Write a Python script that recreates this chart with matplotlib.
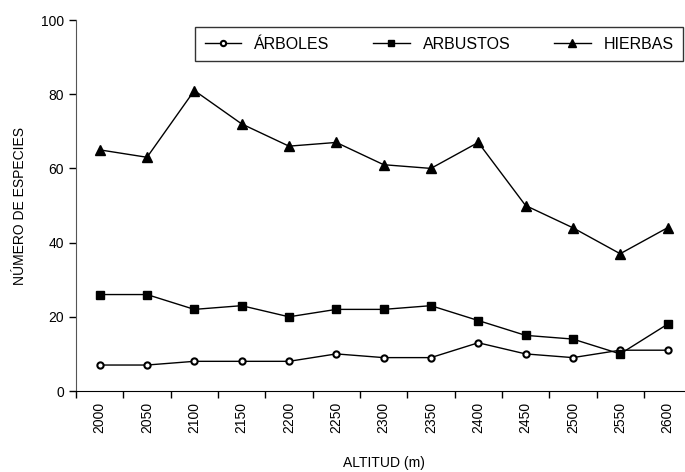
import matplotlib
matplotlib.use("Agg")
import matplotlib.pyplot as plt

# data
altitudes = ['2000', '2050', '2100', '2150', '2200', '2250', '2300',
             '2350', '2400', '2450', '2500', '2550', '2600']
arboles = [7, 7, 8, 8, 8, 10, 9, 9, 13, 10, 9, 11, 11]
arbustos = [26, 26, 22, 23, 20, 22, 22, 23, 19, 15, 14, 10, 18]
hierbas = [65, 63, 81, 72, 66, 67, 61, 60, 67, 50, 44, 37, 44]

plt.rcParams['font.family'] = ['Liberation Sans', 'DejaVu Sans']

fig = plt.figure(figsize=(6.85, 4.72), dpi=100)
ax = fig.add_axes([0.111, 0.1716, 0.898, 0.786])

x = list(range(len(altitudes)))
ax.plot(x, arboles, color='black', lw=1, marker='o', ms=4.5,
        mfc='white', mec='black', mew=1.5, label='ÁRBOLES')
ax.plot(x, arbustos, color='black', lw=1, marker='s', ms=5.5,
        label='ARBUSTOS')
ax.plot(x, hierbas, color='black', lw=1, marker='^', ms=6.5,
        label='HIERBAS')

ax.set_xlim(-0.5, len(altitudes) - 0.5)
ax.set_ylim(0, 100)
ax.set_yticks([0, 20, 40, 60, 80, 100])
ax.set_xticks(x)
ax.set_xticklabels(altitudes, rotation=90, fontsize=10)
ax.set_xticks([i + 0.5 for i in range(-1, len(altitudes))], minor=True)
ax.tick_params(axis='x', which='major', length=0, pad=8)
ax.tick_params(axis='x', which='minor', length=5, width=1, direction='out')
ax.tick_params(axis='y', length=5, width=1, direction='out', labelsize=10)

for s in ['top', 'right']:
    ax.spines[s].set_visible(False)
ax.spines['left'].set_color('#555555')
ax.spines['bottom'].set_color('black')

ax.set_ylabel('NÚMERO DE ESPECIES', fontsize=10, labelpad=10)
ax.set_xlabel('ALTITUD (m)', fontsize=10, labelpad=16)

leg = ax.legend(loc='upper left', bbox_to_anchor=(0.1935, 0.981, 0.7935, 0.0),
                mode='expand', ncol=3,
                frameon=True, fancybox=False, edgecolor='black',
                fontsize=11.5, handlelength=2.3, columnspacing=2.3,
                borderpad=0.6, handletextpad=0.8, borderaxespad=0,
                markerscale=0.85)
leg.get_frame().set_linewidth(1)

fig.savefig('out.png', dpi=100)
